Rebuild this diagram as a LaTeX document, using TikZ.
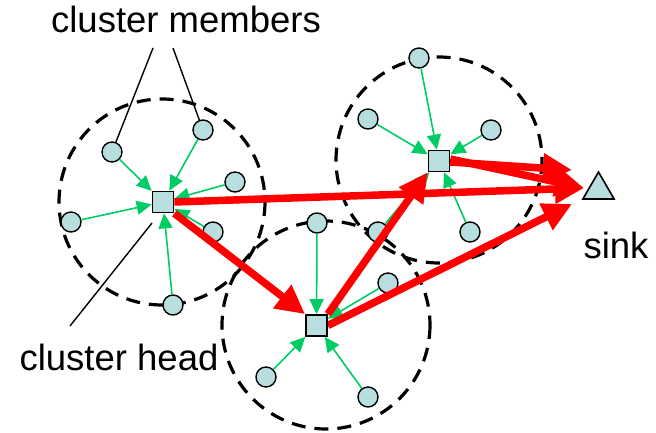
\documentclass[tikz,border=0pt]{standalone}
\usepackage{fontspec}
\setmainfont{Liberation Sans}
\usetikzlibrary{arrows.meta,shapes.geometric}
\definecolor{nodefill}{RGB}{185,222,224}
\definecolor{grn}{RGB}{0,204,102}
\definecolor{rd}{RGB}{255,0,0}
\tikzset{
  member/.style={circle,draw=black,line width=1.4pt,fill=nodefill,minimum size=20pt,inner sep=0pt},
  head/.style={rectangle,draw=black,line width=1.7pt,fill=nodefill,minimum size=21pt,inner sep=0pt},
  sinkshape/.style={regular polygon,regular polygon sides=3,draw=black,line width=1.6pt,fill=nodefill,inner sep=0pt},
  rangecircle/.style={draw=black,line width=3.2pt,dash pattern=on 14pt off 9pt},
  tohead/.style={draw=grn,line width=1.6pt,-{Triangle[length=15pt,width=14pt]}},
  route/.style={draw=rd,line width=7.5pt,-{Triangle[length=29pt,width=28pt]}},
  pointer/.style={draw=black,line width=1.4pt},
  lbl/.style={font=\fontsize{36.5}{40}\selectfont,inner sep=0pt,anchor=base}
}
\begin{document}
\begin{tikzpicture}[x=1pt,y=-1pt]
\useasboundingbox (0,0) rectangle (656,433);
% range circles
\draw[rangecircle] (326,325) circle (104);
\draw[rangecircle] (162,202) circle (103);
\draw[rangecircle] (439,160) circle (103);
% heads
\node[head] (h1) at (163,202) {};
\node[head] (h2) at (439,161) {};
\node[head] (h3) at (316.5,325.5) {};
% members
\node[member] (a1) at (112,152) {};
\node[member] (a2) at (203,130) {};
\node[member] (a3) at (235,182) {};
\node[member] (a4) at (71,222) {};
\node[member] (a5) at (213,232) {};
\node[member] (a6) at (173,305) {};
\node[member] (b1) at (419,58) {};
\node[member] (b2) at (368,119) {};
\node[member] (b3) at (491,130) {};
\node[member] (b4) at (470,232) {};
\node[member] (b5) at (378,232) {};
\node[member] (c1) at (317,223) {};
\node[member] (c2) at (388,283) {};
\node[member] (c3) at (266,377) {};
\node[member] (c4) at (368,397) {};
% green links
\foreach \m in {a1,a2,a3,a4,a5,a6} \draw[tohead] (\m) -- (h1);
\foreach \m in {b1,b2,b3,b4,b5} \draw[tohead] (\m) -- (h2);
\foreach \m in {c1,c2,c3,c4} \draw[tohead] (\m) -- (h3);
% sink
\node[sinkshape,minimum size=36pt] (sink) at (598.5,190) {};
\coordinate (t1) at (572,170);
\coordinate (t2) at (584,188);
\coordinate (t3) at (572,204);
% red routes
\coordinate (s1) at ([yshift=-1pt]h2.east);
\coordinate (s2) at ([yshift=2pt]h2.east);
\draw[route] (s1) -- (t1);
\draw[route] (s2) -- (t2);
\draw[route] (h1.east) -- (t2);
\draw[route] (h1.south east) -- (h3.north west);
\draw[route] (h3.north east) -- (h2.south west);
\draw[route] (h3.east) -- (t3);
% heads on top
\node[head] at (h1) {};
\node[head] at (h2) {};
\node[head] at (h3) {};
% labels
\node[lbl] (lm) at (186,33) {cluster members};
\node[lbl] (lh) at (119,370) {cluster head};
\node[lbl] (ls) at (616,258) {sink};
\coordinate (p1) at (153,48);
\coordinate (p2) at (173,48);
\coordinate (p3) at (152,223);
\coordinate (p4) at (70,326);
\draw[pointer] (p1) -- (a1);
\draw[pointer] (p2) -- (a2);
\draw[pointer] (p3) -- (p4);
\end{tikzpicture}
\end{document}
